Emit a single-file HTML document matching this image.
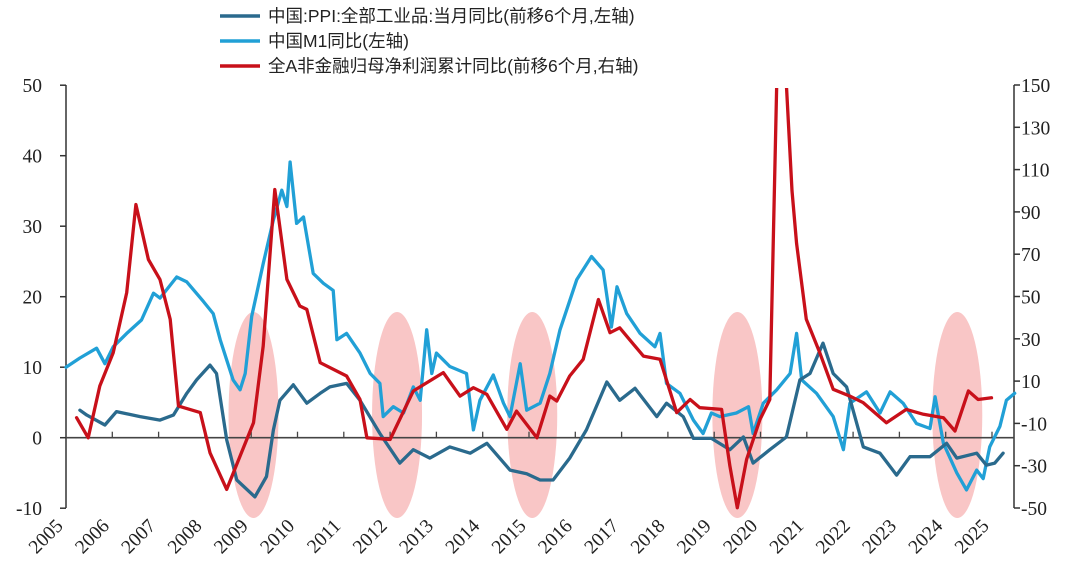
<!DOCTYPE html>
<html><head><meta charset="utf-8"><style>
body{margin:0;background:#fff;}
svg{display:block;font-family:"Liberation Serif",serif;}
.lg{font-family:"Liberation Sans","Noto Sans CJK SC",sans-serif;font-size:17.5px;fill:#222;}
</style></head><body>
<svg id="chart" width="1080" height="579" viewBox="0 0 1080 579">
<defs><clipPath id="plotclip"><rect x="60" y="88" width="960" height="440"/></clipPath></defs>
<g id="bands"></g>
<g id="axes"></g>
<g id="series" clip-path="url(#plotclip)"></g>
<g id="legend"></g>
</svg>
<script>
// ---- data ----
const ppiYears=[2005.3,2005.45,2005.84,2006.09,2006.6,2007.03,2007.32,2007.61,2007.82,2008.11,2008.25,2008.47,2008.69,2009.08,2009.33,2009.48,2009.62,2009.91,2010.2,2010.49,2010.7,2011.06,2011.35,2011.78,2012.21,2012.5,2012.86,2013.29,2013.73,2014.09,2014.59,2014.95,2015.24,2015.52,2015.88,2016.24,2016.68,2016.96,2017.29,2017.76,2017.97,2018.33,2018.55,2018.94,2019.34,2019.63,2019.84,2020.2,2020.56,2020.85,2021.07,2021.35,2021.57,2021.86,2022.22,2022.58,2022.94,2023.23,2023.66,2024.02,2024.24,2024.67,2024.88,2025.06,2025.24];
const ppiValues=[3.9,3.2,1.8,3.7,3,2.5,3.2,6.3,8.2,10.3,9.1,-0.3,-6,-8.4,-5.5,1.1,5.3,7.5,4.9,6.3,7.2,7.7,5.3,0.6,-3.6,-1.7,-2.9,-1.3,-2.2,-0.8,-4.6,-5.1,-6,-6,-2.9,1.1,7.9,5.3,7,3,4.9,3,-0.1,-0.1,-1.7,0.1,-3.6,-1.7,0.1,8.2,9.1,13.4,9.1,7.2,-1.3,-2.2,-5.3,-2.7,-2.7,-0.8,-2.9,-2.2,-3.9,-3.6,-2.2];
const m1Years=[2005.0,2005.3,2005.66,2005.84,2006.02,2006.31,2006.63,2006.89,2007.03,2007.39,2007.61,2007.97,2008.18,2008.33,2008.61,2008.76,2008.87,2009.01,2009.26,2009.48,2009.66,2009.77,2009.84,2009.98,2010.13,2010.34,2010.56,2010.77,2010.85,2011.06,2011.35,2011.57,2011.78,2011.85,2012.07,2012.29,2012.5,2012.65,2012.79,2012.9,2013.0,2013.29,2013.65,2013.8,2013.94,2014.23,2014.45,2014.59,2014.81,2014.95,2015.24,2015.45,2015.67,2016.03,2016.35,2016.6,2016.78,2016.9,2017.11,2017.4,2017.72,2017.83,2017.97,2018.26,2018.55,2018.76,2018.94,2019.12,2019.48,2019.74,2019.84,2020.06,2020.35,2020.64,2020.78,2020.89,2021.21,2021.57,2021.79,2021.93,2022.29,2022.58,2022.8,2023.08,2023.37,2023.66,2023.77,2023.95,2024.24,2024.45,2024.67,2024.81,2024.95,2025.17,2025.31,2025.49];
const m1Values=[10,11.3,12.7,10.5,12.9,14.8,16.7,20.5,19.8,22.8,22.1,19.3,17.6,13.9,8.2,6.8,9.1,17.2,24.7,30.9,35.1,32.8,39.1,30.4,31.3,23.3,21.9,20.9,13.9,14.8,12,9.1,7.7,3,4.4,3.5,7.2,5.3,15.3,9.1,12,10.1,9.1,1.1,5.3,8.9,4.9,3,10.5,3.9,4.9,9.1,15.3,22.4,25.7,23.8,15.7,21.4,17.6,14.8,12.9,14.8,7.7,6.3,2.5,0.6,3.5,3,3.5,4.4,0.6,4.9,6.8,9.1,14.8,8.2,6.3,3,-1.7,4.9,6.5,3.5,6.5,4.9,2,1.3,5.8,-0.8,-5,-7.4,-4.6,-5.8,-1.3,1.6,5.3,6.3];
const profitYears=[2005.23,2005.48,2005.73,2006.02,2006.31,2006.51,2006.78,2007.03,2007.25,2007.43,2007.9,2008.11,2008.47,2008.76,2009.05,2009.26,2009.51,2009.77,2010.05,2010.2,2010.49,2011.06,2011.35,2011.5,2012.0,2012.5,2013.15,2013.51,2013.8,2014.09,2014.52,2014.73,2015.17,2015.45,2015.6,2015.88,2016.17,2016.5,2016.75,2016.96,2017.47,2017.83,2018.19,2018.48,2018.69,2019.16,2019.34,2019.5,2019.7,2019.99,2020.2,2020.35,2020.45,2020.56,2020.68,2020.78,2020.99,2021.28,2021.57,2021.93,2022.22,2022.72,2023.15,2023.52,2023.95,2024.2,2024.49,2024.7,2024.99];
const profitValues=[-7.3,-16.8,7.7,23.4,51.8,93.5,67.5,58,39.2,-1.8,-4.9,-23.9,-41.2,-25.4,-9.7,26.6,100.6,58.1,45.5,43.9,18.7,12.4,1.3,-16.8,-17.6,5.3,14,2.9,6.9,3.7,-12.8,-4.2,-16.8,2.9,0.6,12.4,20.3,48.6,32.9,35.2,21.8,20.3,-4.9,1.3,-2.6,-3.4,-30.2,-49.9,-27,-8.1,1.3,150,175,150,100,75,39.2,23.4,6.1,2.9,-0.2,-9.7,-3.4,-5.7,-7.3,-13.6,5.3,1.3,2.1];
const bandCenters=[2009.05,2012.15,2015.07,2019.5,2024.25];
const leftTicks=[50,40,30,20,10,0,-10];
const rightTicks=[150,130,110,90,70,50,30,10,-10,-30,-50];
const yearLabels=[2005,2006,2007,2008,2009,2010,2011,2012,2013,2014,2015,2016,2017,2018,2019,2020,2021,2022,2023,2024,2025];

// ---- scales ----
const X0=66,XW=46.3;
const xS=y=>X0+(y-2005)*XW;
const yL=v=>437.7-v*7.05;
const yR=v=>508-(v+50)*2.115;
const NS='http://www.w3.org/2000/svg';
function mk(tag,attrs,parent){const e=document.createElementNS(NS,tag);for(const k in attrs)e.setAttribute(k,attrs[k]);parent.appendChild(e);return e;}
const axes=document.getElementById('axes'),series=document.getElementById('series'),bands=document.getElementById('bands'),legend=document.getElementById('legend');

bandCenters.forEach(c=>{
  const e=mk('ellipse',{cx:xS(c),cy:415,rx:25,ry:103,fill:'#f9c6c6'},bands);
  
  
});

const la=mk('line',{x1:66,y1:85,x2:66,y2:508,stroke:'#333','stroke-width':1.5},axes);


const ra=mk('line',{x1:1014,y1:85,x2:1014,y2:508,stroke:'#333','stroke-width':1.5},axes);


const zl=mk('line',{x1:66,y1:yL(0),x2:1014,y2:yL(0),stroke:'#444','stroke-width':1.6},axes);


leftTicks.forEach(v=>{
  mk('line',{x1:60,y1:yL(v),x2:66,y2:yL(v),stroke:'#333','stroke-width':1.5},axes);
  const t=mk('text',{x:42,y:yL(v)+7,'text-anchor':'end','font-size':19.5,fill:'#222'},axes);
  t.textContent=v;
  
  
});
rightTicks.forEach(v=>{
  mk('line',{x1:1014,y1:yR(v),x2:1020,y2:yR(v),stroke:'#333','stroke-width':1.5},axes);
  const t=mk('text',{x:1021,y:yR(v)+7,'text-anchor':'start','font-size':19.5,fill:'#222'},axes);
  t.textContent=v;
  
  
});
yearLabels.forEach(yv=>{
  const x=xS(yv);
  if(yv>2005) mk('line',{x1:x,y1:yL(0),x2:x,y2:yL(0)-6,stroke:'#444','stroke-width':1.3},axes);
  const t=mk('text',{x:x-2,y:527,'text-anchor':'end','font-size':19.5,fill:'#222',transform:`rotate(-45 ${x-2} 527)`},axes);
  t.textContent=yv;
  
  
});

function line(xs,vs,ys,color,name){
  const d=xs.map((x,i)=>(i?'L':'M')+xS(x).toFixed(1)+' '+ys(vs[i]).toFixed(1)).join(' ');
  const p=mk('path',{d:d,fill:'none',stroke:color,'stroke-width':3.3,'stroke-linejoin':'round','stroke-linecap':'round'},series);
  
  
}
line(m1Years,m1Values,yL,'#21a0d6','m1-line');
line(ppiYears,ppiValues,yL,'#2a6a8d','ppi-line');
line(profitYears,profitValues,yR,'#c8101a','profit-line');

const items=[['#2a6a8d','中国:PPI:全部工业品:当月同比(前移6个月,左轴)','legend-ppi'],['#21a0d6','中国M1同比(左轴)','legend-m1'],['#c8101a','全A非金融归母净利润累计同比(前移6个月,右轴)','legend-profit']];
items.forEach((it,i)=>{
  const y=16+i*25;
  const g=mk('g',{},legend);
  
  
  mk('line',{x1:220,y1:y,x2:260,y2:y,stroke:it[0],'stroke-width':3.5},g);
  const t=mk('text',{x:268,y:y+6,class:'lg'},g);
  t.textContent=it[1];
});
</script>
</body></html>
